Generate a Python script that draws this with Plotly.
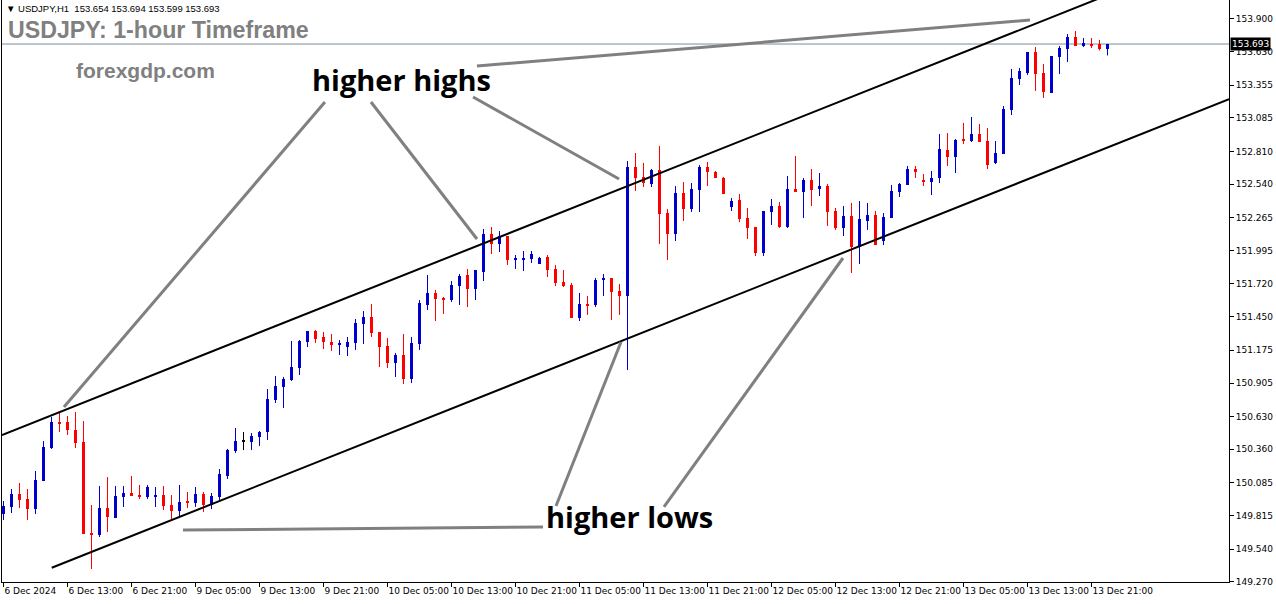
import plotly.graph_objects as go

# ---------------- data (USDJPY H1) ----------------
opens = [149.828, 149.886, 149.993, 149.951, 149.869, 150.099, 150.371, 150.585, 150.585, 150.519,
         150.420, 149.672, 149.655, 149.877, 149.795, 149.968, 150.001, 149.984, 149.968, 149.968,
         149.984, 149.902, 149.853, 149.927, 149.919, 149.993, 149.902, 149.968, 150.141, 150.346,
         150.428, 150.420, 150.461, 150.502, 150.766, 150.872, 150.930, 151.029, 151.243, 151.333,
         151.284, 151.243, 151.218, 151.201, 151.234, 151.391, 151.448, 151.325, 151.210, 151.070,
         151.136, 150.938, 151.226, 151.547, 151.646, 151.604, 151.588, 151.703, 151.794, 151.678,
         151.818, 152.131, 152.049, 152.114, 151.917, 151.925, 151.925, 151.884, 151.942, 151.843,
         151.736, 151.711, 151.440, 151.555, 151.547, 151.752, 151.769, 151.662, 151.621, 152.682,
         152.599, 152.542, 152.657, 152.303, 152.131, 152.468, 152.336, 152.493, 152.682, 152.641,
         152.591, 152.353, 152.410, 152.262, 152.188, 151.974, 152.312, 152.361, 152.188, 152.501,
         152.476, 152.575, 152.501, 152.525, 152.320, 152.180, 152.279, 152.024, 152.238, 152.287,
         152.073, 152.262, 152.476, 152.534, 152.665, 152.575, 152.558, 152.591, 152.821, 152.764,
         152.912, 152.895, 152.953, 152.895, 152.715, 152.789, 153.150, 153.405, 153.455, 153.627,
         153.455, 153.290, 153.586, 153.652, 153.751, 153.677, 153.693, 153.693, 153.654]
highs = [149.935, 150.034, 150.083, 150.034, 150.182, 150.428, 150.626, 150.667, 150.634, 150.667,
         150.593, 149.902, 150.058, 150.132, 150.058, 150.058, 150.141, 150.067, 150.067, 150.050,
         150.058, 149.984, 150.067, 150.009, 150.050, 150.009, 150.001, 150.198, 150.363, 150.535,
         150.502, 150.494, 150.511, 150.856, 150.963, 150.955, 151.251, 151.259, 151.333, 151.341,
         151.325, 151.308, 151.259, 151.284, 151.432, 151.497, 151.555, 151.325, 151.275, 151.152,
         151.308, 151.284, 151.588, 151.794, 151.670, 151.613, 151.744, 151.802, 151.843, 151.835,
         152.172, 152.188, 152.155, 152.114, 151.958, 151.991, 151.991, 151.942, 151.958, 151.876,
         151.835, 151.728, 151.646, 151.621, 151.769, 151.802, 151.769, 151.720, 152.731, 152.797,
         152.715, 152.665, 152.854, 152.336, 152.525, 152.558, 152.550, 152.698, 152.723, 152.649,
         152.599, 152.427, 152.460, 152.345, 152.188, 152.320, 152.419, 152.394, 152.608, 152.772,
         152.591, 152.665, 152.632, 152.542, 152.345, 152.361, 152.386, 152.402, 152.386, 152.320,
         152.303, 152.534, 152.550, 152.690, 152.690, 152.624, 152.649, 152.953, 152.961, 152.912,
         153.044, 153.093, 153.035, 153.002, 152.895, 153.183, 153.488, 153.496, 153.627, 153.668,
         153.529, 153.594, 153.677, 153.775, 153.800, 153.742, 153.742, 153.726, 153.694]
lows = [149.779, 149.836, 149.877, 149.779, 149.828, 150.099, 150.363, 150.502, 150.478, 150.371,
        149.664, 149.376, 149.639, 149.680, 149.795, 149.886, 149.976, 149.951, 149.951, 149.886,
        149.861, 149.771, 149.812, 149.877, 149.886, 149.845, 149.869, 149.935, 150.116, 150.330,
        150.354, 150.354, 150.387, 150.437, 150.741, 150.700, 150.922, 150.971, 151.201, 151.234,
        151.185, 151.169, 151.136, 151.127, 151.177, 151.226, 151.284, 151.037, 151.029, 150.955,
        150.897, 150.905, 151.177, 151.506, 151.415, 151.473, 151.572, 151.547, 151.530, 151.588,
        151.744, 151.966, 151.983, 151.876, 151.843, 151.826, 151.892, 151.884, 151.777, 151.703,
        151.695, 151.440, 151.415, 151.465, 151.530, 151.621, 151.423, 151.465, 151.012, 152.484,
        152.517, 152.517, 152.049, 151.917, 152.073, 152.238, 152.312, 152.312, 152.525, 152.591,
        152.460, 152.320, 152.229, 152.090, 151.950, 151.950, 152.205, 152.180, 152.180, 152.476,
        152.262, 152.361, 152.443, 152.197, 152.164, 152.114, 151.810, 151.884, 152.164, 152.040,
        152.040, 152.262, 152.435, 152.534, 152.591, 152.525, 152.451, 152.550, 152.690, 152.632,
        152.871, 152.887, 152.887, 152.665, 152.706, 152.789, 153.109, 153.356, 153.438, 153.307,
        153.249, 153.290, 153.446, 153.545, 153.677, 153.668, 153.660, 153.640, 153.599]
closes = [149.894, 149.993, 149.943, 149.869, 150.108, 150.379, 150.585, 150.576, 150.519, 150.412,
          149.664, 149.655, 149.877, 149.803, 149.976, 150.001, 149.976, 149.968, 150.050, 149.984,
          149.894, 149.853, 149.927, 149.919, 149.993, 149.902, 149.976, 150.157, 150.354, 150.428,
          150.428, 150.469, 150.502, 150.774, 150.881, 150.938, 151.037, 151.251, 151.333, 151.267,
          151.243, 151.218, 151.226, 151.243, 151.399, 151.448, 151.317, 151.201, 151.070, 151.136,
          150.938, 151.234, 151.563, 151.646, 151.596, 151.596, 151.711, 151.785, 151.678, 151.835,
          152.131, 152.049, 152.114, 151.917, 151.933, 151.933, 151.966, 151.933, 151.835, 151.728,
          151.703, 151.440, 151.555, 151.539, 151.752, 151.769, 151.654, 151.621, 152.682, 152.591,
          152.550, 152.657, 152.295, 152.131, 152.468, 152.336, 152.501, 152.682, 152.641, 152.591,
          152.460, 152.402, 152.254, 152.180, 151.974, 152.320, 152.361, 152.188, 152.501, 152.476,
          152.575, 152.493, 152.525, 152.312, 152.180, 152.279, 152.024, 152.254, 152.287, 152.040,
          152.271, 152.484, 152.542, 152.665, 152.641, 152.558, 152.591, 152.830, 152.764, 152.904,
          152.895, 152.953, 152.887, 152.698, 152.797, 153.159, 153.414, 153.471, 153.627, 153.446,
          153.298, 153.594, 153.660, 153.751, 153.677, 153.701, 153.677, 153.654, 153.693]

# time axis labels every 8 bars (bar 0 = 6 Dec 2024 05:00)
time_labels = ["6 Dec 2024", "6 Dec 13:00", "6 Dec 21:00", "9 Dec 05:00", "9 Dec 13:00",
               "9 Dec 21:00", "10 Dec 05:00", "10 Dec 13:00", "10 Dec 21:00", "11 Dec 05:00",
               "11 Dec 13:00", "11 Dec 21:00", "12 Dec 05:00", "12 Dec 13:00", "12 Dec 21:00",
               "13 Dec 05:00", "13 Dec 13:00", "13 Dec 21:00"]
label_step = 8

price_ticks = [153.900, 153.630, 153.355, 153.085, 152.810, 152.540, 152.265, 151.995, 151.720,
               151.450, 151.175, 150.905, 150.630, 150.360, 150.085, 149.815, 149.540, 149.270]

# channel trend lines (bar index, price)
upper_line_x = [-0.19, 140.0]
upper_line_y = [150.478, 154.148]
lower_line_x = [6.03, 153.19]
lower_line_y = [149.386, 153.240]

last_price = closes[-1]

# ---------------- figure ----------------
BLUE = "#0000cd"
RED = "#ff0000"
n = len(opens)
bars = list(range(n))

fig = go.Figure()

groups = {BLUE: [], RED: [], "#000000": []}
for i in bars:
    o, c = opens[i], closes[i]
    col = BLUE if c > o else (RED if c < o else "#000000")
    groups[col].append(i)

for col, ids in groups.items():
    if not ids:
        continue
    wx, wy = [], []
    for i in ids:
        wx += [i, i, None]
        wy += [lows[i], highs[i], None]
    fig.add_trace(go.Scatter(x=wx, y=wy, mode="lines", line=dict(color=col, width=1),
                             hoverinfo="skip", showlegend=False))
    fig.add_trace(go.Bar(
        x=ids,
        y=[max(abs(closes[i] - opens[i]), 0.009) for i in ids],
        base=[min(opens[i], closes[i]) for i in ids],
        width=0.375, marker=dict(color=col, line=dict(width=0)),
        showlegend=False, hoverinfo="skip"))

# channel lines
fig.add_trace(go.Scatter(x=upper_line_x, y=upper_line_y, mode="lines",
                         line=dict(color="black", width=2), showlegend=False, hoverinfo="skip"))
fig.add_trace(go.Scatter(x=lower_line_x, y=lower_line_y, mode="lines",
                         line=dict(color="black", width=2), showlegend=False, hoverinfo="skip"))

# current price line
fig.add_shape(type="line", xref="paper", x0=0, x1=1, yref="y", y0=last_price, y1=last_price,
              line=dict(color="#7d8b99", width=1), layer="below")

# gray pointer lines (paper coords)
pointers = [
    (0.2632, 0.8247, 0.0505, 0.3007),
    (0.3007, 0.8247, 0.3871, 0.5893),
    (0.3839, 0.8333, 0.5029, 0.6924),
    (0.3871, 0.8866, 0.8378, 0.9656),
    (0.4515, 0.1306, 0.5045, 0.4124),
    (0.5395, 0.1289, 0.6854, 0.5567),
    (0.1475, 0.0893, 0.4409, 0.0945),
]
for x0, y0, x1, y1 in pointers:
    fig.add_shape(type="line", xref="paper", yref="paper", x0=x0, y0=y0, x1=x1, y1=y1,
                  line=dict(color="#808080", width=3))

# texts
fig.add_annotation(xref="paper", yref="paper", x=0.3258, y=0.8629, xanchor="center", yanchor="middle",
                   text="higher highs", showarrow=False,
                   font=dict(family="Open Sans", size=29, color="black", weight="bold"))
fig.add_annotation(xref="paper", yref="paper", x=0.5112, y=0.1117, xanchor="center", yanchor="middle",
                   text="higher lows", showarrow=False,
                   font=dict(family="Open Sans", size=29, color="black", weight="bold"))
fig.add_annotation(xref="paper", yref="paper", x=0.0033, y=0.9485, xanchor="left", yanchor="middle",
                   text="USDJPY: 1-hour Timeframe", showarrow=False,
                   font=dict(family="Liberation Sans", size=23.2, color="#808080", weight="bold"))
fig.add_annotation(xref="paper", yref="paper", x=0.1173, y=0.8794, xanchor="center", yanchor="middle",
                   text="forexgdp.com", showarrow=False,
                   font=dict(family="Liberation Sans", size=21, color="#808080", weight="bold"))
fig.add_annotation(xref="paper", yref="paper", x=0.002, y=0.998, xanchor="left", yanchor="top",
                   text="▼ USDJPY,H1  %.3f %.3f %.3f %.3f" % (opens[-1], highs[-1], lows[-1], closes[-1]),
                   showarrow=False, font=dict(family="Liberation Sans", size=9.5, color="black"))
# last price tag on the price scale
fig.add_annotation(xref="paper", yref="y", x=1.0, y=last_price, xanchor="left", yanchor="middle",
                   text="%.3f" % last_price, showarrow=False, bgcolor="black", borderpad=1,
                   xshift=1, font=dict(family="DejaVu Sans", size=9, color="white"))

fig.update_layout(
    width=1276, height=604,
    margin=dict(l=2, r=47, t=0, b=22, autoexpand=False),
    paper_bgcolor="white", plot_bgcolor="white",
    barmode="overlay", bargap=0,
    showlegend=False,
    xaxis=dict(range=[-0.1875, 153.1875], showgrid=False, zeroline=False, automargin=False,
               showline=True, linecolor="black", linewidth=1, mirror=False,
               tickmode="array",
               tickvals=[k * label_step for k in range(len(time_labels))],
               ticktext=time_labels, ticks="outside", ticklen=4, tickcolor="black",
               ticklabelposition="outside right", tickangle=0,
               tickfont=dict(family="DejaVu Sans", size=9, color="black")),
    yaxis=dict(range=[149.269, 154.055], side="right", showgrid=False, zeroline=False,
               automargin=False,
               showline=True, linecolor="black", linewidth=1, mirror=True,
               tickmode="array", tickvals=price_ticks,
               ticktext=["%.3f" % v for v in price_ticks],
               ticks="outside", ticklen=4, tickcolor="black",
               tickfont=dict(family="DejaVu Sans", size=9, color="black")),
)

fig.write_html("out.html", config={"displayModeBar": False},
               post_script="document.body.style.margin='0';document.body.style.overflow='hidden';")
